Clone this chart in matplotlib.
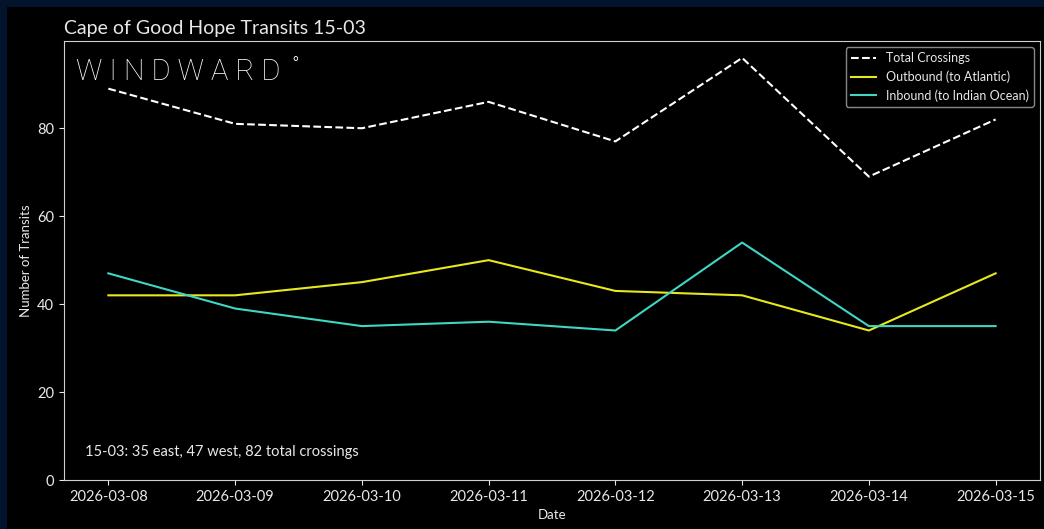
import numpy as np
import pandas as pd
import matplotlib
matplotlib.use("Agg")
import matplotlib.pyplot as plt
from matplotlib.patches import Rectangle

dates = pd.to_datetime(["2026-03-08", "2026-03-09", "2026-03-10", "2026-03-11",
                        "2026-03-12", "2026-03-13", "2026-03-14", "2026-03-15"])
total = [89, 81, 80, 86, 77, 96, 69, 82]
outbound = [42, 42, 45, 50, 43, 42, 34, 47]
inbound = [47, 39, 35, 36, 34, 54, 35, 35]
tick_labels = [d.strftime("%Y-%m-%d") for d in dates]

plt.rcParams['font.family'] = ['Lato', 'DejaVu Sans']
fg = '#e8e8e8'
navy = '#01142b'

fig = plt.figure(figsize=(10.44, 5.29), dpi=100, facecolor='black')
# navy strips at top and left (screenshot is cropped at right and bottom)
fig.patches.append(Rectangle((0, 1 - 7 / 529), 1, 7 / 529, transform=fig.transFigure,
                             facecolor=navy, edgecolor='none', zorder=0))
fig.patches.append(Rectangle((0, 0), 7 / 1044, 1, transform=fig.transFigure,
                             facecolor=navy, edgecolor='none', zorder=0))

ax = fig.add_axes([64 / 1044, 49 / 529, 976 / 1044, 439 / 529])
ax.set_zorder(2)
ax.set_facecolor('black')
x = np.arange(len(dates))
ax.plot(x, total, color='white', ls='--', lw=1.5, label='Total Crossings')
ax.plot(x, outbound, color='#e8e81e', lw=1.5, label='Outbound (to Atlantic)')
ax.plot(x, inbound, color='#3fd6c4', lw=1.5, label='Inbound (to Indian Ocean)')

ax.set_ylim(0, max(total) * 1.04)
ax.set_xticks(x)
ax.set_xticklabels(tick_labels)
ax.set_yticks([0, 20, 40, 60, 80])
ax.tick_params(colors=fg, labelsize=10.5)
for s in ax.spines.values():
    s.set_color('#d0d0d0')
ax.set_xlabel('Date', color=fg, fontsize=9.5)
ax.set_ylabel('Number of Transits', color=fg, fontsize=9.5)
ax.set_title('Cape of Good Hope Transits 15-03', color=fg, fontsize=14, loc='left', pad=5)

leg = ax.legend(loc='upper right', fontsize=9, facecolor='black', edgecolor='#888888',
                framealpha=1)
for t in leg.get_texts():
    t.set_color(fg)

ax.text(0.022, 0.055, '15-03: 35 east, 47 west, 82 total crossings', transform=ax.transAxes,
        color=fg, fontsize=10.5)

# logo
ax.text(0.012, 0.93, 'W I N D W A R D', transform=ax.transAxes, color='white',
        fontsize=21, family=['Roboto', 'DejaVu Sans'], fontweight='light',
        ha='left', va='center')
ax.text(0.234, 0.952, u'\u00b0', transform=ax.transAxes, color='white', fontsize=10,
        ha='left', va='center')

fig.savefig('out.png', dpi=100, facecolor=fig.get_facecolor())
